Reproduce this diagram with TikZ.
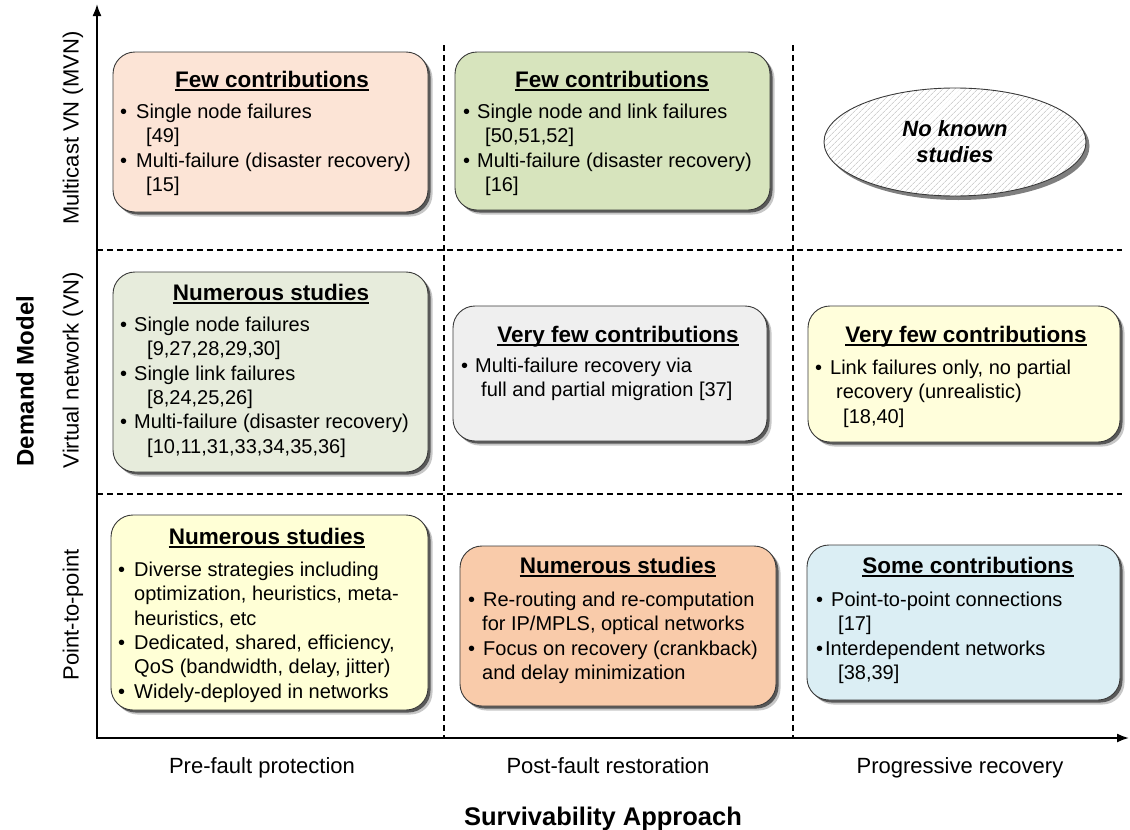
\documentclass[tikz,border=0pt]{standalone}
\usepackage{fontspec}
\setmainfont{Liberation Sans}
\usetikzlibrary{arrows.meta,shadows,shapes.geometric,patterns.meta}

\definecolor{boxline}{HTML}{3A3A3A}
\definecolor{peach}{HTML}{FCE4D6}
\definecolor{sage}{HTML}{D7E4BD}
\definecolor{palesage}{HTML}{E7ECDC}
\definecolor{palegray}{HTML}{EFEFEF}
\definecolor{cream}{HTML}{FFFEDB}
\definecolor{lightyellow}{HTML}{FFFFD6}
\definecolor{apricot}{HTML}{F9CBAA}
\definecolor{paleblue}{HTML}{DBEEF4}

% bullet set in a box of the given width, then the item text
\newcommand\bitem[2]{\makebox[#1][l]{\textbullet}#2}
% continuation line indented by the given width
\newcommand\cont[2]{\hspace*{#1}#2}
% fixes the height of the first line of a body text
\newcommand\firstline{\rule{0pt}{16pt}}

\tikzset{
  panel/.style={draw=boxline, line width=0.9pt, rounded corners=22pt, inner sep=0pt,
    drop shadow={shadow xshift=4.5pt, shadow yshift=-4.5pt, opacity=0.22, fill=black},
    drop shadow={shadow xshift=2.5pt, shadow yshift=-2.5pt, opacity=0.55, fill=black}},
  heading/.style={anchor=base, inner sep=0pt, font=\fontsize{22.5}{26}\selectfont\bfseries},
  body/.style={anchor=north west, inner sep=0pt, align=left, font=\fontsize{20}{24.4}\selectfont},
  uline/.style={line width=1.4pt},
  divider/.style={dash pattern=on 6pt off 4pt, line width=1.1pt},
  axis/.style={line width=1.8pt, {Latex[length=12pt,width=9pt]}-{Latex[length=12pt,width=9pt]}},
  collabel/.style={anchor=base, inner sep=0pt, font=\fontsize{22}{26}\selectfont},
  rowlabel/.style={rotate=90, inner sep=0pt, font=\fontsize{22}{26}\selectfont},
}

\begin{document}
\begin{tikzpicture}[x=1pt, y=-1pt]
  \useasboundingbox[fill=white] (0,0) rectangle (1130,830);

  % grid dividers
  \coordinate (v1top) at (444,45);  \coordinate (v1bot) at (444,738);
  \coordinate (v2top) at (793,45);  \coordinate (v2bot) at (793,738);
  \coordinate (h1l) at (97,250);    \coordinate (h1r) at (1122,250);
  \coordinate (h2l) at (97,494);    \coordinate (h2r) at (1122,494);
  \draw[divider] (v1top) -- (v1bot);
  \draw[divider] (v2top) -- (v2bot);
  \draw[divider] (h1l) -- (h1r);
  \draw[divider] (h2l) -- (h2r);

  % axes
  \coordinate (ytop) at (97,4);
  \coordinate (origin) at (97,738);
  \coordinate (xend) at (1129,738);
  \draw[axis] (ytop) -- (origin) -- (xend);

  % axis labels
  \node[collabel] (c1) at (262,773) {Pre-fault protection};
  \node[collabel] (c2) at (608,773) {Post-fault restoration};
  \node[collabel] (c3) at (960,773) {Progressive recovery};
  \node[anchor=base, inner sep=0pt, font=\fontsize{25.5}{30}\selectfont\bfseries] (xt) at (603,825) {Survivability Approach};
  \node[rotate=90, inner sep=0pt, font=\fontsize{24}{28}\selectfont\bfseries] (yt) at (25,381) {Demand Model};
  \node[rowlabel] (r1) at (73,128) {Multicast VN (MVN)};
  \node[rowlabel] (r2) at (73,370) {Virtual network (VN)};
  \node[rowlabel] (r3) at (73,615) {Point-to-point};

  % --- multicast row ---
  \node[panel, fill=peach, minimum width=315pt, minimum height=160pt] (b1) at (270.5,132) {};
  \node[heading] (t1) at (272,87) {Few contributions};
  \draw[uline] ([yshift=-3pt]t1.base west) -- ([yshift=-3pt]t1.base east);
  \node[body] (l1) at (120,102) {\firstline\bitem{16pt}{Single node failures}\\
    \cont{26pt}{[49]}\\
    \bitem{16pt}{Multi-failure (disaster recovery)}\\
    \cont{26pt}{[15]}};

  \node[panel, fill=sage, minimum width=315pt, minimum height=158pt] (b2) at (612.5,131) {};
  \node[heading] (t2) at (612,87) {Few contributions};
  \draw[uline] ([yshift=-3pt]t2.base west) -- ([yshift=-3pt]t2.base east);
  \node[body] (l2) at (463,102) {\firstline\bitem{14pt}{Single node and link failures}\\
    \cont{22pt}{[50,51,52]}\\
    \bitem{14pt}{Multi-failure (disaster recovery)}\\
    \cont{22pt}{[16]}};

  \node[ellipse, draw=boxline, line width=0.9pt, minimum width=262pt, minimum height=108pt,
    drop shadow={shadow xshift=3.5pt, shadow yshift=-4pt, opacity=0.5, fill=black},
    preaction={fill=white}, pattern={Lines[angle=45, distance=4pt, line width=0.6pt]},
    pattern color=gray!55, align=center,
    font=\fontsize{22}{26}\selectfont\bfseries\itshape] (e) at (955,142) {No known\\studies};

  % --- virtual network row ---
  \node[panel, fill=palesage, minimum width=315pt, minimum height=200pt] (b4) at (270.5,372) {};
  \node[heading] (t4) at (271,300) {Numerous studies};
  \draw[uline] ([yshift=-3pt]t4.base west) -- ([yshift=-3pt]t4.base east);
  \node[body] (l4) at (120,315) {\firstline\bitem{14pt}{Single node failures}\\
    \cont{27pt}{[9,27,28,29,30]}\\
    \bitem{14pt}{Single link failures}\\
    \cont{27pt}{[8,24,25,26]}\\
    \bitem{14pt}{Multi-failure (disaster recovery)}\\
    \cont{27pt}{[10,11,31,33,34,35,36]}};

  \node[panel, fill=palegray, minimum width=314pt, minimum height=135pt] (b5) at (610,373.5) {};
  \node[heading] (t5) at (618,342) {Very few contributions};
  \draw[uline] ([yshift=-3pt]t5.base west) -- ([yshift=-3pt]t5.base east);
  \node[body] (l5) at (461,356) {\firstline\bitem{14pt}{Multi-failure recovery via}\\
    \cont{20pt}{full and partial migration [37]}};

  \node[panel, fill=cream, minimum width=312pt, minimum height=136pt] (b6) at (964,374) {};
  \node[heading] (t6) at (966,342) {Very few contributions};
  \draw[uline] ([yshift=-3pt]t6.base west) -- ([yshift=-3pt]t6.base east);
  \node[body] (l6) at (815,358) {\firstline\bitem{15pt}{Link failures only, no partial}\\
    \cont{21pt}{recovery (unrealistic)}\\
    \cont{28pt}{[18,40]}};

  % --- point-to-point row ---
  \node[panel, fill=lightyellow, minimum width=317pt, minimum height=195pt] (b7) at (269.5,612.5) {};
  \node[heading] (t7) at (267,544) {Numerous studies};
  \draw[uline] ([yshift=-3pt]t7.base west) -- ([yshift=-3pt]t7.base east);
  \node[body] (l7) at (118,560) {\firstline\bitem{16pt}{Diverse strategies including}\\
    \cont{16pt}{optimization, heuristics, meta-}\\
    \cont{16pt}{heuristics, etc}\\
    \bitem{16pt}{Dedicated, shared, efficiency,}\\
    \cont{16pt}{QoS (bandwidth, delay, jitter)}\\
    \bitem{16pt}{Widely-deployed in networks}};

  \node[panel, fill=apricot, minimum width=316pt, minimum height=160pt] (b8) at (618,626) {};
  \node[heading] (t8) at (618,573) {Numerous studies};
  \draw[uline] ([yshift=-3pt]t8.base west) -- ([yshift=-3pt]t8.base east);
  \node[body] (l8) at (468,590) {\firstline\bitem{15pt}{Re-routing and re-computation}\\
    \cont{14pt}{for IP/MPLS, optical networks}\\
    \bitem{15pt}{Focus on recovery (crankback)}\\
    \cont{14pt}{and delay minimization}};

  \node[panel, fill=paleblue, minimum width=313pt, minimum height=155pt] (b9) at (963.5,622.5) {};
  \node[heading] (t9) at (968,573) {Some contributions};
  \draw[uline] ([yshift=-3pt]t9.base west) -- ([yshift=-3pt]t9.base east);
  \node[body] (l9) at (816,590) {\firstline\bitem{15pt}{Point-to-point connections}\\
    \cont{22pt}{[17]}\\
    \bitem{9pt}{Interdependent networks}\\
    \cont{22pt}{[38,39]}};
\end{tikzpicture}
\end{document}
